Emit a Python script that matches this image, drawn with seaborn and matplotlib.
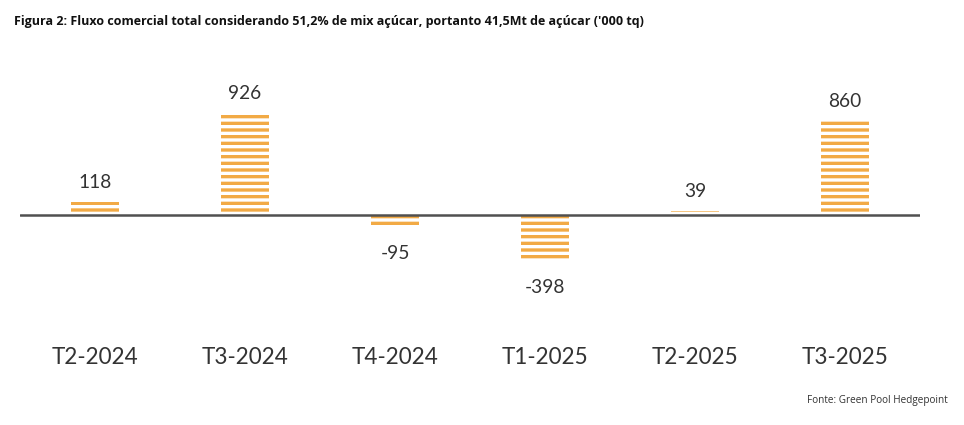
import seaborn as sns
import matplotlib.pyplot as plt
import matplotlib as mpl

categories = ["T2-2024", "T3-2024", "T4-2024", "T1-2025", "T2-2025", "T3-2025"]
values = [118, 926, -95, -398, 39, 860]

title = "Figura 2: Fluxo comercial total considerando 51,2% de mix açúcar, portanto 41,5Mt de açúcar ('000 tq)"
source = "Fonte: Green Pool Hedgepoint"

orange = "#F2AA45"
dpi = 120

sns.set_style("white")
plt.rcParams['font.family'] = ['Lato', 'DejaVu Sans']
mpl.rcParams['hatch.linewidth'] = 2.0

W, H = 965, 425
fig = plt.figure(figsize=(W / dpi, H / dpi), dpi=dpi)
# axes: x from 20 to 920 px, y from 60 to 330 px
ax = fig.add_axes([20 / W, 1 - 330 / H, 900 / W, 270 / H])

sns.barplot(x=categories, y=values, ax=ax, width=0.32,
            facecolor="none", edgecolor=orange, linewidth=0, hatch="---")

scale = 0.110  # px per unit
ax.set_ylim(-(330 - 215) / scale, (215 - 60) / scale)
ax.set_xlim(-0.5, 5.5)
ax.axhline(0, color="#505050", lw=1.5, zorder=5)

bars = ax.containers[0]
pos_labels = [str(v) if v >= 0 else "" for v in values]
neg_labels = [str(v) if v < 0 else "" for v in values]
ax.bar_label(bars, labels=pos_labels, padding=6.5, fontsize=11.5, color="#333333")
ax.bar_label(bars, labels=neg_labels, padding=12, fontsize=11.5, color="#333333")

ax.set_yticks([])
ax.set_xlabel("")
ax.set_ylabel("")
ax.tick_params(axis="x", length=0, pad=10, labelsize=13.5, labelcolor="#333333")
sns.despine(ax=ax, left=True, bottom=True)

fig.text(14 / W, 1 - 22 / H, title, fontsize=7.5, fontweight="bold",
         family=["Open Sans", "DejaVu Sans"], va="center", ha="left", color="#111111")
fig.text(948 / W, 1 - 400 / H, source, fontsize=6.0,
         family=["Open Sans", "DejaVu Sans"], va="center", ha="right", color="#333333")

fig.savefig("out.png", dpi=dpi)
